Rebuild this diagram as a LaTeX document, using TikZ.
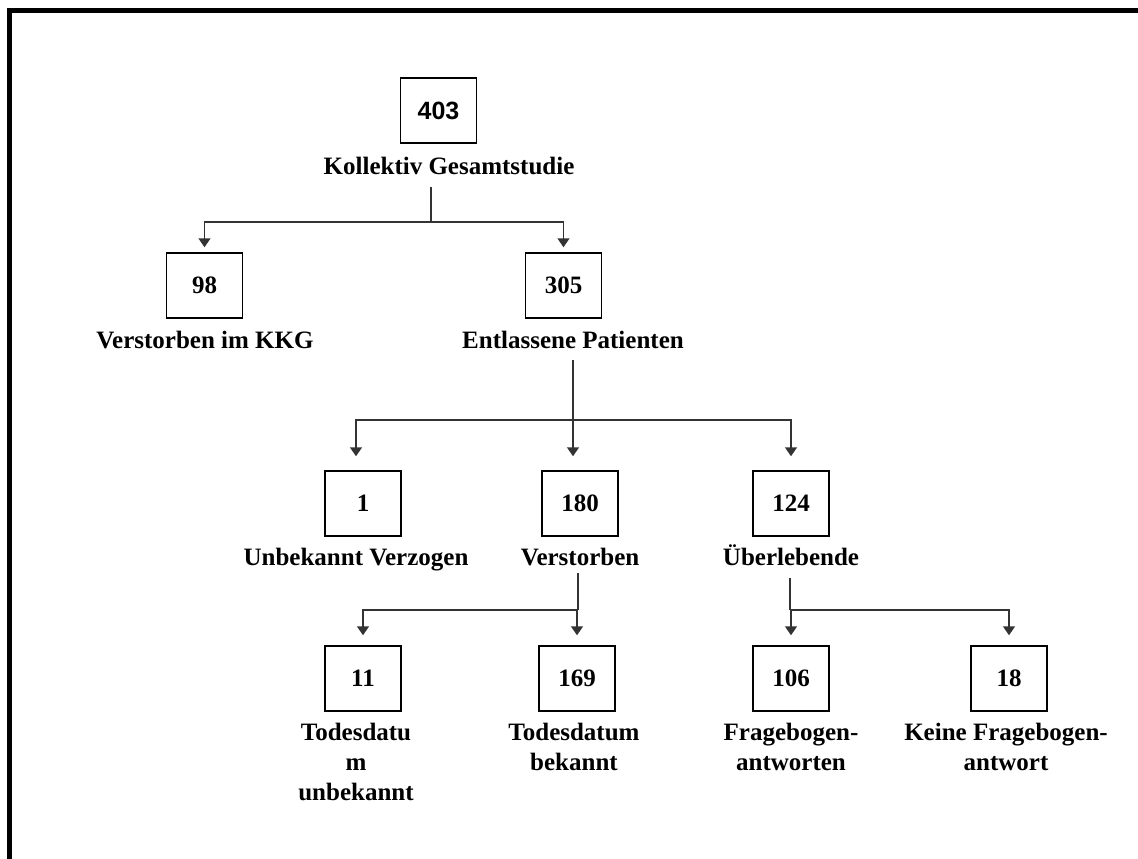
\documentclass[tikz,border=0pt]{standalone}
\usepackage{fontspec}
\setmainfont{Liberation Serif}
\newfontfamily\numfont{Liberation Sans}
\usetikzlibrary{arrows.meta}
\tikzset{>={Triangle[width=12pt,length=9pt]}}
\colorlet{penColor}{black}
\colorlet{lineColor}{black!80}
\tikzset{
  countbox/.style={draw=penColor, line width=1.5pt, minimum width=76pt, minimum height=65pt,
    inner sep=0pt, font=\fontsize{25}{30}\selectfont\bfseries},
  caption/.style={anchor=base, align=center, inner sep=0pt, font=\fontsize{25}{30}\selectfont\bfseries},
  link/.style={lineColor, line width=1.5pt},
}

\begin{document}
\begin{tikzpicture}[x=1pt,y=-1pt]
\useasboundingbox (0,0) rectangle (1138,859);
\draw[penColor, line width=5pt] (1138,10.5) -- (9.5,10.5) -- (9.5,859);

% whole study
\node[countbox] (n403) at (438.5,110.5) {\numfont 403};
\node[caption] (c403) at (449,174) {Kollektiv Gesamtstudie};

% first split
\node[countbox] (n98) at (204.5,285.5) {98};
\node[caption] (c98) at (205,348) {Verstorben im KKG};
\node[countbox] (n305) at (563.5,285.5) {305};
\node[caption] (c305) at (573,348) {Entlassene Patienten};

% discharged
\node[countbox] (n1) at (363,503.5) {1};
\node[caption] (c1) at (356,565) {Unbekannt Verzogen};
\node[countbox] (n180) at (580,503.5) {180};
\node[caption] (c180) at (580,565) {Verstorben};
\node[countbox] (n124) at (791,503.5) {124};
\node[caption] (c124) at (791,565) {Überlebende};

% last level (base = last line)
\node[countbox] (n11) at (363,678.5) {11};
\node[caption] (c11) at (356,800) {Todesdatu\\m\\unbekannt};
\node[countbox] (n169) at (577,678.5) {169};
\node[caption] (c169) at (574,770) {Todesdatum\\bekannt};
\node[countbox] (n106) at (791,678.5) {106};
\node[caption] (c106) at (791,770) {Fragebogen-\\antworten};
\node[countbox] (n18) at (1009,678.5) {18};
\node[caption] (c18) at (1006,770) {Keine Fragebogen-\\antwort};

% forks
\coordinate (t0) at (431,187);
\coordinate (f0) at (431,222);
\draw[link] (t0) -- (f0);
\draw[link,->,shorten >=5pt] (f0) -| (n98);
\draw[link,->,shorten >=5pt] (f0) -| (n305);

\coordinate (t1) at (573,360);
\coordinate (f1) at (573,420);
\draw[link] (t1) -- (f1);
\draw[link,->,shorten >=14pt] (f1) -| ([xshift=-7pt]n1.north);
\draw[link,->,shorten >=14pt] (f1) -- ([xshift=-7pt]n180.north);
\draw[link,->,shorten >=14pt] (f1) -| (n124);

\coordinate (t2) at (578,573);
\coordinate (f2) at (578,610);
\draw[link] (t2) -- (f2);
\draw[link,->,shorten >=10pt] (f2) -| (n11);
\draw[link,->,shorten >=10pt] (f2) -| (n169);

\coordinate (t3) at (790,578);
\coordinate (f3) at (790,610);
\draw[link] (t3) -- (f3);
\draw[link,->,shorten >=10pt] (f3) -| (n106);
\draw[link,->,shorten >=10pt] (f3) -| (n18);
\end{tikzpicture}
\end{document}
